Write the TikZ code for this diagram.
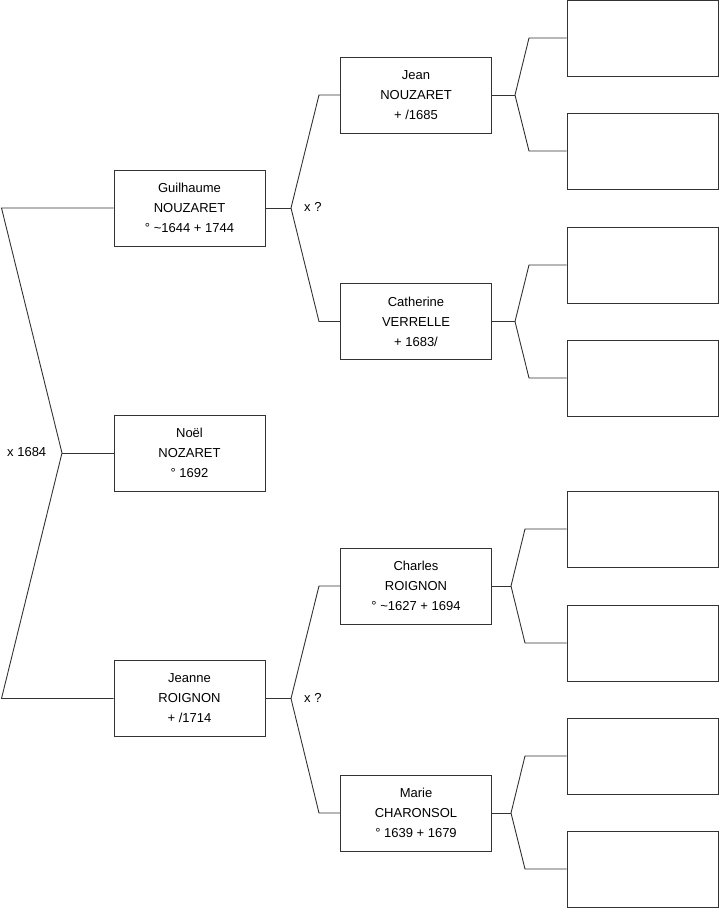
\documentclass[tikz,border=0pt]{standalone}
\usepackage{fontspec}
\setmainfont{Liberation Sans}
\usepackage{xcolor}
\usepackage{tikz}
\definecolor{linegray}{RGB}{51,51,51}

\begin{document}
\begin{tikzpicture}[
    x=1pt, y=-1pt,
    every node/.style={font=\fontsize{13}{20}\selectfont},
    personbox/.style={
        rectangle,
        draw=linegray,
        line width=0.9pt,
        align=center,
        minimum width=151pt,
        minimum height=76pt,
        inner sep=0pt,
        fill=white
    },
    emptybox/.style={
        personbox
    },
    link/.style={draw=linegray, line width=0.9pt},
    mariage/.style={anchor=west, inner sep=0pt}
]
\useasboundingbox (0,0) rectangle (719,908);

% generation 1
\node[personbox] (noel) at (189.5,453) {No\"el\\NOZARET\\\textdegree{} 1692};

% generation 2
\node[personbox] (guil) at (189.5,208) {Guilhaume\\NOUZARET\\\textdegree{} \textasciitilde1644 + 1744};
\node[personbox] (jeanne) at (189.5,698.5) {Jeanne\\ROIGNON\\+ /1714};

% generation 3
\node[personbox] (jean) at (416,95) {Jean\\NOUZARET\\+ /1685};
\node[personbox] (cath) at (416,321.5) {Catherine\\VERRELLE\\+ 1683/};
\node[personbox] (charles) at (416,586) {Charles\\ROIGNON\\\textdegree{} \textasciitilde1627 + 1694};
\node[personbox] (marie) at (416,813) {Marie\\CHARONSOL\\\textdegree{} 1639 + 1679};

% generation 4 (unknown)
\node[emptybox] (e1) at (642.5,38) {};
\node[emptybox] (e2) at (642.5,151) {};
\node[emptybox] (e3) at (642.5,265) {};
\node[emptybox] (e4) at (642.5,378) {};
\node[emptybox] (e5) at (642.5,529) {};
\node[emptybox] (e6) at (642.5,643) {};
\node[emptybox] (e7) at (642.5,756) {};
\node[emptybox] (e8) at (642.5,869) {};

% fork points
\coordinate (f0) at (62,453);
\coordinate (f0a) at (1.5,208);
\coordinate (f0b) at (1.5,698.5);
\coordinate (f1) at (291,208);
\coordinate (f1a) at (319,95);
\coordinate (f1b) at (319,321.5);
\coordinate (f2) at (291,698.5);
\coordinate (f2a) at (319,586);
\coordinate (f2b) at (319,813);
\coordinate (f3) at (515,95);
\coordinate (f3a) at (529,38);
\coordinate (f3b) at (529,151);
\coordinate (f4) at (515,321.5);
\coordinate (f4a) at (529,265);
\coordinate (f4b) at (529,378);
\coordinate (f5) at (511,586);
\coordinate (f5a) at (525,529);
\coordinate (f5b) at (525,643);
\coordinate (f6) at (511,813);
\coordinate (f6a) at (525,756);
\coordinate (f6b) at (525,869);

% links
\draw[link] (noel.west) -- (f0);
\draw[link] (guil.west) -- (f0a) -- (f0) -- (f0b) -- (jeanne.west);

\draw[link] (guil.east) -- (f1);
\draw[link] (jean.west) -- (f1a) -- (f1) -- (f1b) -- (cath.west);
\draw[link] (jeanne.east) -- (f2);
\draw[link] (charles.west) -- (f2a) -- (f2) -- (f2b) -- (marie.west);

\draw[link] (jean.east) -- (f3);
\draw[link] (e1.west) -- (f3a) -- (f3) -- (f3b) -- (e2.west);
\draw[link] (cath.east) -- (f4);
\draw[link] (e3.west) -- (f4a) -- (f4) -- (f4b) -- (e4.west);
\draw[link] (charles.east) -- (f5);
\draw[link] (e5.west) -- (f5a) -- (f5) -- (f5b) -- (e6.west);
\draw[link] (marie.east) -- (f6);
\draw[link] (e7.west) -- (f6a) -- (f6) -- (f6b) -- (e8.west);

% marriages
\node[mariage] (m0) at (7,452) {x 1684};
\node[mariage] (m1) at (304,207) {x ?};
\node[mariage] (m2) at (304,697.5) {x ?};

\end{tikzpicture}
\end{document}
